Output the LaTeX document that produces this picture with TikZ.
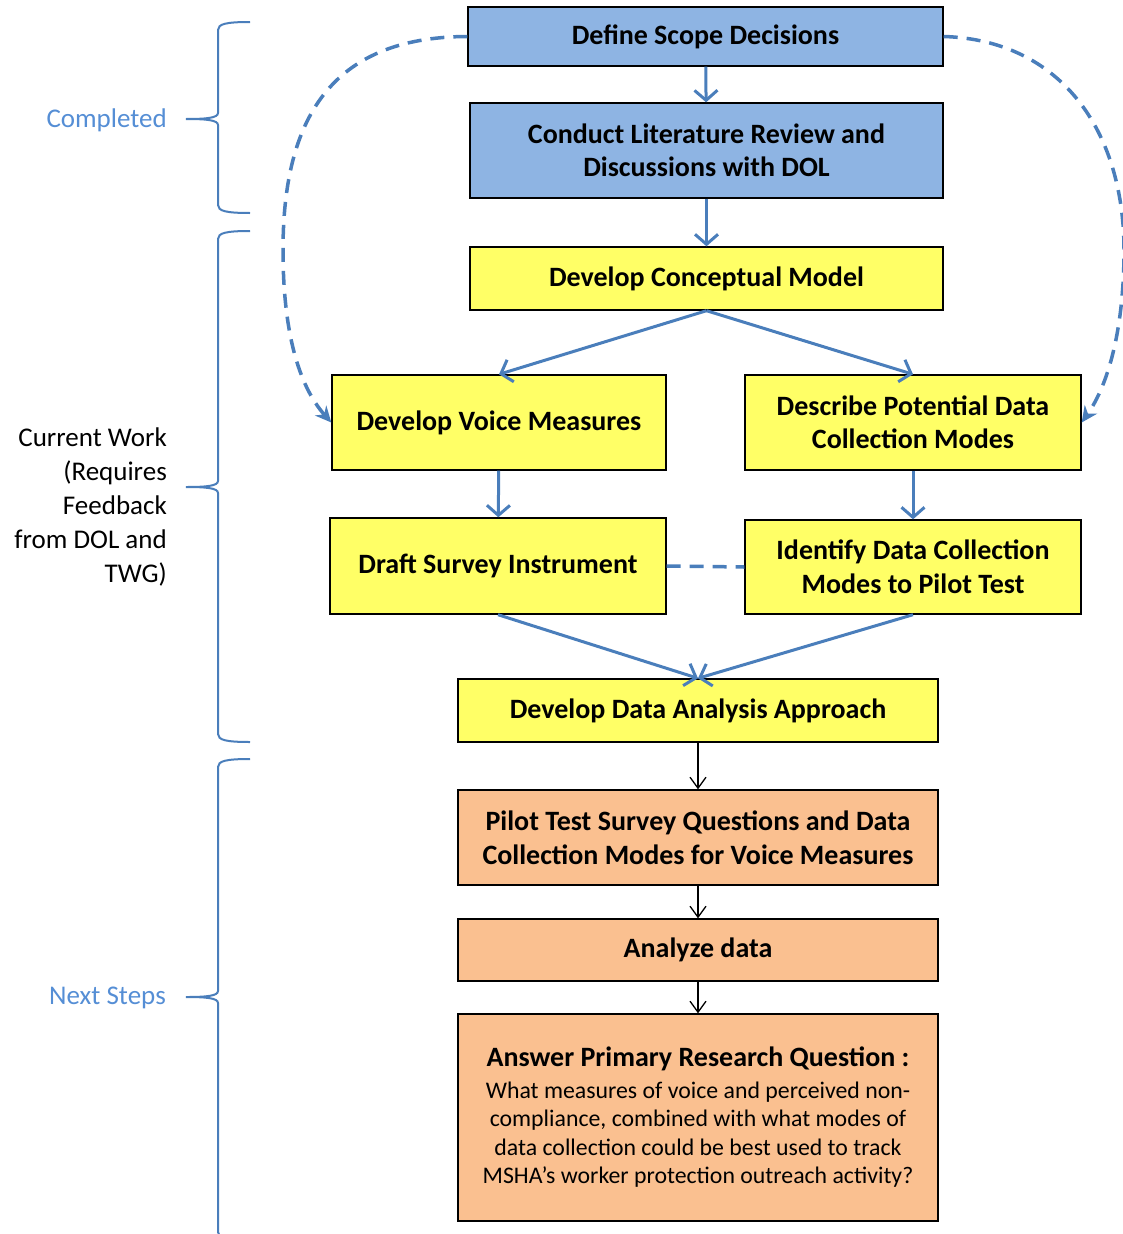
\documentclass[tikz,border=0pt]{standalone}
\usepackage{fontspec}
\setmainfont{Carlito}
\usetikzlibrary{arrows.meta}

\definecolor{boxblue}{RGB}{142,180,227}
\definecolor{boxyellow}{RGB}{255,255,102}
\definecolor{boxorange}{RGB}{250,192,144}
\definecolor{linkblue}{RGB}{74,126,187}
\definecolor{labelblue}{RGB}{85,142,213}

\tikzset{
  stepbox/.style={draw=black, line width=1.4pt, align=center, inner sep=0pt,
    font=\fontsize{28}{33.5}\selectfont\bfseries},
  bluebox/.style={stepbox, fill=boxblue},
  yellowbox/.style={stepbox, fill=boxyellow},
  orangebox/.style={stepbox, fill=boxorange},
  sidelabel/.style={anchor=east, inner sep=0pt, align=right,
    font=\fontsize{27}{34}\selectfont},
  bluelink/.style={linkblue, line width=3pt,
    -{Straight Barb[length=10pt,width=23pt,line width=3pt]}},
  blacklink/.style={black, line width=1.3pt,
    -{Straight Barb[length=11pt,width=16pt,line width=1.3pt]}},
  dashlink/.style={linkblue, line width=3.5pt, dash pattern=on 14pt off 9pt},
  bracket/.style={linkblue, line width=2pt}
}

\begin{document}
\begin{tikzpicture}[x=1pt,y=-1pt]
    \useasboundingbox (0,0) rectangle (1122,1234);

    % braces on the left
    \foreach \ya/\yb/\yc in {22/119/213, 231/487/742, 759/997/1240}{
        \draw[bracket] (250,\ya) .. controls (226,\ya) and (218,\ya+2) .. (218,\ya+8)
            -- (218,\yb-6) .. controls (218,\yb-1) and (206,\yb) .. (186,\yb)
            .. controls (206,\yb) and (218,\yb+1) .. (218,\yb+6)
            -- (218,\yc-8) .. controls (218,\yc-2) and (226,\yc) .. (250,\yc);
    }
    \node[sidelabel, text=labelblue] (completed) at (167,120) {Completed};
    \node[sidelabel] (current) at (167,507) {Current Work\\(Requires\\Feedback\\from DOL and\\TWG)};
    \node[sidelabel, text=labelblue] (next) at (166,998) {Next Steps};

    % steps
    \node[bluebox, minimum width=475pt, minimum height=59pt] (scope) at (705.5,36.5) {Define Scope Decisions};
    \node[bluebox, minimum width=473pt, minimum height=95pt] (lit) at (706.5,150.5) {Conduct Literature Review and\\Discussions with DOL};
    \node[yellowbox, minimum width=473pt, minimum height=63pt] (concept) at (706.5,278.5) {Develop Conceptual Model};
    \node[yellowbox, minimum width=334pt, minimum height=95pt] (voice) at (499,422.5) {Develop Voice Measures};
    \node[yellowbox, minimum width=336pt, minimum height=95pt] (describe) at (913,422.5) {Describe Potential Data\\Collection Modes};
    \node[yellowbox, minimum width=336pt, minimum height=96pt] (draft) at (498,566) {Draft Survey Instrument};
    \node[yellowbox, minimum width=336pt, minimum height=94pt] (identify) at (913,567) {Identify Data Collection\\Modes to Pilot Test};
    \node[yellowbox, minimum width=480pt, minimum height=63pt] (analysis) at (698,710.5) {Develop Data Analysis Approach};
    \node[orangebox, minimum width=480pt, minimum height=95pt] (pilot) at (698,837.5) {Pilot Test Survey Questions and Data\\Collection Modes for Voice Measures};
    \node[orangebox, minimum width=480pt, minimum height=62pt] (analyze) at (698,950) {Analyze data};
    \node[orangebox, minimum width=480pt, minimum height=207pt,
        font=\fontsize{23.8}{28.5}\selectfont] (answer) at (698,1117.5)
        {{\fontsize{28}{33}\selectfont\bfseries Answer Primary Research Question :}\\[3pt]
         What measures of voice and perceived non-\\compliance, combined with what modes of\\data collection could be best used to track\\MSHA’s worker protection outreach activity?};

    % connectors
    \draw[bluelink] (scope) -- (lit);
    \draw[bluelink] (lit) -- (concept);
    \draw[bluelink] (concept.south) -- (voice.north);
    \draw[bluelink] (concept.south) -- (describe.north);
    \draw[bluelink] (voice) -- (draft);
    \draw[bluelink] (describe) -- (identify);
    \draw[bluelink] (draft.south) -- (analysis.north);
    \draw[bluelink] (identify.south) -- (analysis.north);
    \draw[blacklink] (analysis) -- (pilot);
    \draw[blacklink] (pilot) -- (analyze);
    \draw[blacklink] (analyze) -- (answer);

    \draw[dashlink] (draft.east) -- (identify.west);
    \draw[dashlink, -{Stealth[length=16pt,width=15pt]}] (scope.west) .. controls (330,37) and (283,120) .. (283,250)
        .. controls (283,330) and (298,385) .. (voice.west);
    \draw[dashlink, -{Stealth[length=16pt,width=15pt]}] (scope.east) .. controls (1060,40) and (1124,130) .. (1124,250)
        .. controls (1124,330) and (1108,385) .. (describe.east);
\end{tikzpicture}
\end{document}
